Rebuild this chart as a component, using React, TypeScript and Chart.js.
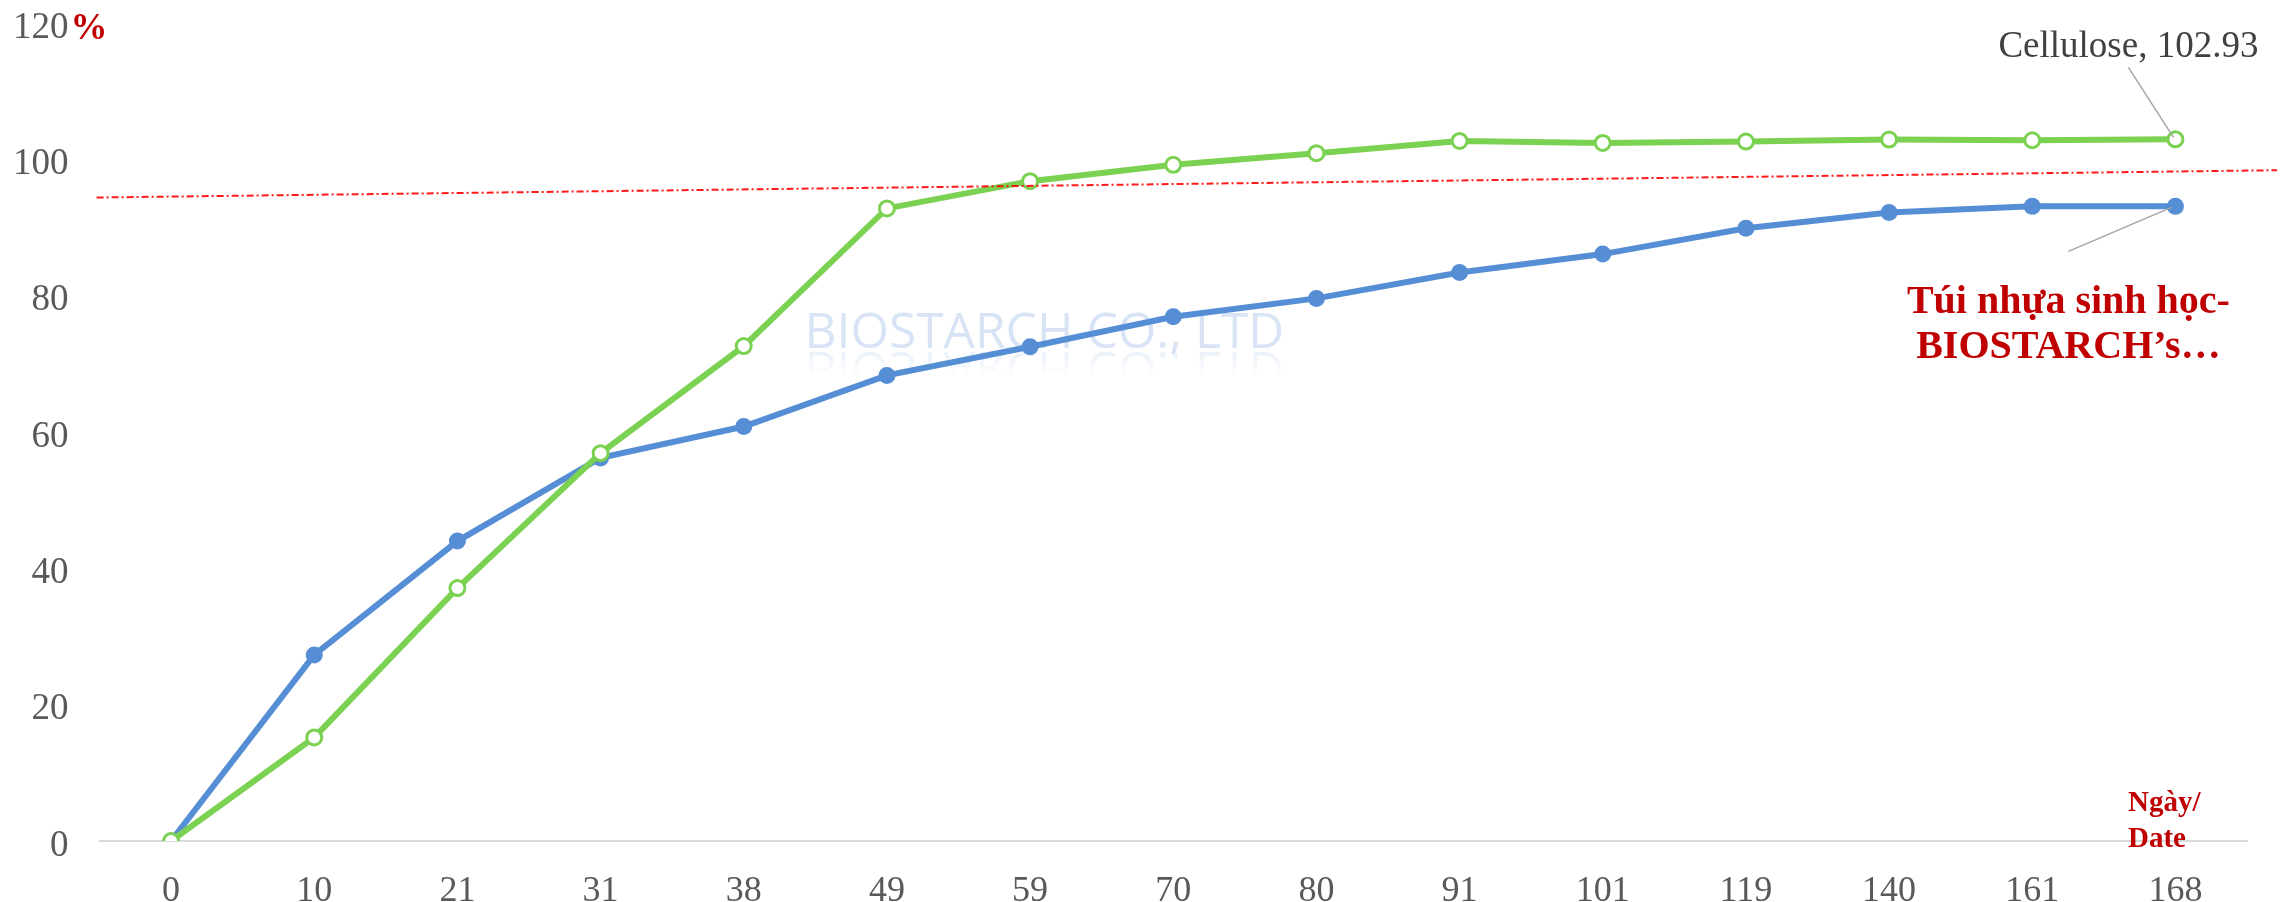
import React, { useEffect, useRef } from "react";
import { Chart, registerables } from "chart.js";

Chart.register(...registerables);

const categories = ["0", "10", "21", "31", "38", "49", "59", "70", "80", "91", "101", "119", "140", "161", "168"];
const biostarchValues = [0, 27.3, 44.0, 56.2, 60.8, 68.3, 72.5, 76.9, 79.6, 83.4, 86.1, 89.9, 92.2, 93.1, 93.1];
const celluloseValues = [0, 15.2, 37.1, 56.9, 72.6, 92.8, 96.8, 99.2, 100.9, 102.7, 102.4, 102.6, 102.9, 102.8, 102.93];
const biostarchLabelLines = ["Túi nhựa sinh học-", "BIOSTARCH’s…"];
const celluloseLabel = "Cellulose, 102.93";
const yTicks = [0, 20, 40, 60, 80, 100, 120];
const referenceLine = { x0: -0.52, y0: 94.4, x1: 14.71, y1: 98.4 };
const watermarkText = "BIOSTARCH CO., LTD";
const xAxisTitleLines = ["Ngày/", "Date"];
const yUnit = "%";

const SERIF = "'Liberation Serif', 'Times New Roman', serif";
const BLUE = "#558ED5";
const GREEN = "#7BD151";
const DARKRED = "#C00000";

const annotPlugin = {
  id: "annot",
  beforeDatasetsDraw(chart: any) {
    const ctx = chart.ctx;
    const ca = chart.chartArea;
    ctx.save();
    const targetW = 480;
    ctx.font = `50px 'Open Sans', 'Noto Sans', sans-serif`;
    const w = ctx.measureText(watermarkText).width;
    const size = (50 * targetW) / w;
    ctx.font = `${size}px 'Open Sans', 'Noto Sans', sans-serif`;
    const cx = ca.left + (ca.right - ca.left) * 0.44;
    const baseY = ca.top + 325;
    ctx.textAlign = "center";
    ctx.textBaseline = "alphabetic";
    ctx.fillStyle = "rgba(190,210,238,0.6)";
    ctx.fillText(watermarkText, cx, baseY);
    ctx.save();
    ctx.beginPath();
    ctx.rect(cx - 300, baseY + 2, 600, 26);
    ctx.clip();
    ctx.translate(0, 2 * baseY + 4);
    ctx.scale(1, -1);
    const g = ctx.createLinearGradient(0, baseY - 26, 0, baseY);
    g.addColorStop(0, "rgba(190,210,238,0)");
    g.addColorStop(1, "rgba(190,210,238,0.3)");
    ctx.fillStyle = g;
    ctx.fillText(watermarkText, cx, baseY);
    ctx.restore();
    ctx.restore();
  },
  afterDatasetsDraw(chart: any) {
    const ctx = chart.ctx;
    const xs = chart.scales.x;
    const ys = chart.scales.y;
    ctx.save();
    ctx.strokeStyle = "rgba(255,0,0,0.9)";
    ctx.lineWidth = 2;
    ctx.setLineDash([7, 3, 2, 3]);
    ctx.beginPath();
    ctx.moveTo(xs.getPixelForValue(referenceLine.x0), ys.getPixelForValue(referenceLine.y0));
    ctx.lineTo(xs.getPixelForValue(referenceLine.x1), ys.getPixelForValue(referenceLine.y1));
    ctx.stroke();
    ctx.setLineDash([]);

    const metaG = chart.getDatasetMeta(0);
    const metaB = chart.getDatasetMeta(1);
    const pg = metaG.data[metaG.data.length - 1];
    const pb = metaB.data[metaB.data.length - 1];

    ctx.strokeStyle = "#A6A6A6";
    ctx.lineWidth = 1.5;
    ctx.beginPath();
    ctx.moveTo(pg.x - 47, pg.y - 72);
    ctx.lineTo(pg.x - 2, pg.y - 2);
    ctx.stroke();
    ctx.fillStyle = "#404040";
    ctx.font = `37px ${SERIF}`;
    ctx.textAlign = "center";
    ctx.textBaseline = "middle";
    ctx.fillText(celluloseLabel, pg.x - 47, pg.y - 92);

    ctx.beginPath();
    ctx.moveTo(pb.x - 107, pb.y + 45);
    ctx.lineTo(pb.x - 4, pb.y + 1);
    ctx.stroke();
    ctx.fillStyle = DARKRED;
    ctx.font = `bold 40px ${SERIF}`;
    ctx.fillText(biostarchLabelLines[0], pb.x - 107, pb.y + 96);
    ctx.fillText(biostarchLabelLines[1], pb.x - 107, pb.y + 141);
    ctx.restore();
  },
  afterDraw(chart: any) {
    const ctx = chart.ctx;
    const ca = chart.chartArea;
    const ys = chart.scales.y;
    ctx.save();
    ctx.fillStyle = DARKRED;
    ctx.font = `bold 37px ${SERIF}`;
    ctx.textAlign = "left";
    ctx.textBaseline = "middle";
    ctx.fillText(yUnit, ca.left - 29, ys.getPixelForValue(120) + 6);
    ctx.font = `bold 29px ${SERIF}`;
    ctx.fillText(xAxisTitleLines[0], ca.right - 119, ca.bottom - 37);
    ctx.fillText(xAxisTitleLines[1], ca.right - 119, ca.bottom - 1);
    ctx.restore();
  },
};

export default function App() {
  const ref = useRef<HTMLCanvasElement>(null);
  useEffect(() => {
    document.body.style.margin = "0";
    const chart = new Chart(ref.current as HTMLCanvasElement, {
      type: "line",
      data: {
        labels: categories,
        datasets: [
          {
            label: "Cellulose",
            data: celluloseValues,
            borderColor: GREEN,
            backgroundColor: "#FFFFFF",
            borderWidth: 6,
            pointRadius: 7.5,
            pointBorderWidth: 3,
            pointBorderColor: GREEN,
            pointBackgroundColor: "#FFFFFF",
            tension: 0,
            order: 0,
          },
          {
            label: "Túi nhựa sinh học-BIOSTARCH’s…",
            data: biostarchValues,
            borderColor: BLUE,
            backgroundColor: BLUE,
            borderWidth: 6,
            pointRadius: 8.5,
            pointBorderWidth: 0,
            pointBackgroundColor: BLUE,
            tension: 0,
            order: 1,
          },
        ],
      },
      options: {
        responsive: false,
        animation: false,
        layout: { padding: { top: 23, right: 46, bottom: 0, left: 0 } },
        plugins: { legend: { display: false }, tooltip: { enabled: false } },
        scales: {
          x: {
            type: "category",
            offset: true,
            grid: { display: false, drawTicks: false, tickLength: 0 },
            border: { display: true, color: "#D9D9D9", width: 2 },
            ticks: {
              color: "#595959",
              font: { family: SERIF, size: 36 },
              padding: 29,
              maxRotation: 0,
              autoSkip: false,
            },
            afterFit: (s: any) => {
              s.height = 61;
              s.paddingLeft = 0;
              s.paddingRight = 0;
              s.paddingTop = 0;
              s.paddingBottom = 0;
            },
          },
          y: {
            min: 0,
            max: 120,
            afterBuildTicks: (s: any) => {
              s.ticks = yTicks.map((v) => ({ value: v }));
            },
            grid: { display: false, drawTicks: false, tickLength: 0 },
            border: { display: false },
            ticks: {
              color: "#595959",
              font: { family: SERIF, size: 37 },
              padding: 31,
              labelOffset: 5,
            },
            afterFit: (s: any) => {
              s.width = 99.5;
              s.paddingTop = 0;
              s.paddingBottom = 0;
              s.paddingLeft = 0;
              s.paddingRight = 0;
            },
          },
        },
      },
      plugins: [annotPlugin],
    });
    return () => chart.destroy();
  }, []);
  return (
    <div style={{ position: "absolute", left: 0, top: 0, width: 2293, height: 902, background: "#fff" }}>
      <canvas ref={ref} width={2293} height={902} style={{ width: 2293, height: 902 }} />
    </div>
  );
}
